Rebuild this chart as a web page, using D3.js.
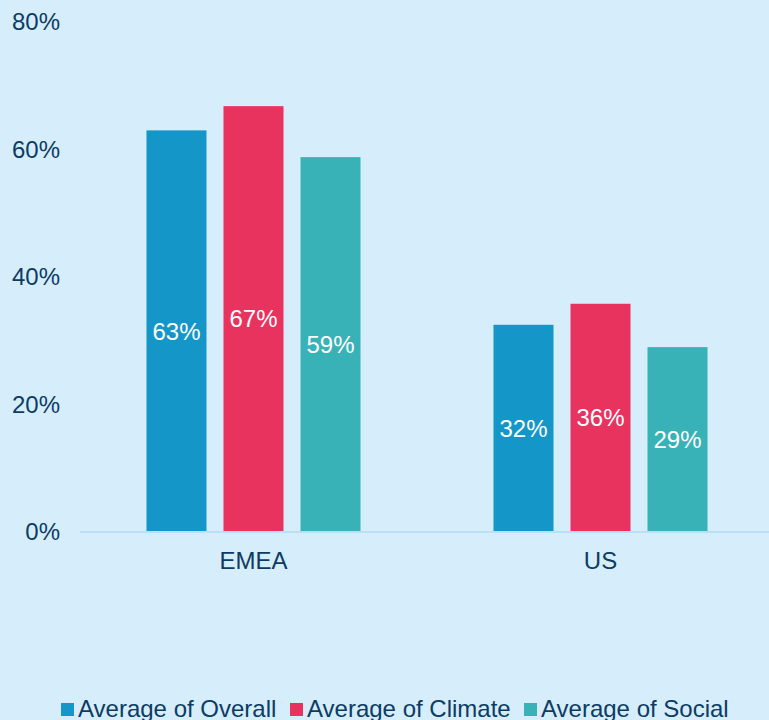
<!DOCTYPE html>
<html>
<head>
<meta charset="utf-8">
<script src="https://cdn.jsdelivr.net/npm/d3@7"></script>
<style>
  body { margin: 0; background: #d6edfc; }
  svg { display: block; font-family: "Liberation Sans", Arial, sans-serif; }
</style>
</head>
<body>
<div class="canvas"></div>
<script>
const regions = ['EMEA', 'US'];
const series = ['Average of Overall', 'Average of Climate', 'Average of Social'];
const overall = [63, 32.5];
const climate = [66.8, 35.8];
const social = [58.8, 29];
const valueLabels = [['63%', '67%', '59%'], ['32%', '36%', '29%']];
const yTicks = [0, 20, 40, 60, 80];
const colors = ['#1496c8', '#e8335f', '#38b2b7'];

const W = 769, H = 720;
const textColor = '#0c3c64';

const svg = d3.select('.canvas')
  .append('svg')
  .attr('width', W)
  .attr('height', H);

svg.append('rect')
  .attr('width', W)
  .attr('height', H)
  .attr('fill', '#d6edfc');

const y = d3.scaleLinear().domain([0, 80]).range([532, 22]);
const x0 = d3.scaleBand().domain(regions).range([80, 774]);
const x1 = d3.scaleBand().domain(series)
  .range([0, x0.bandwidth()])
  .paddingInner(17 / 77)
  .paddingOuter(0.8635);

// y tick labels
svg.append('g')
  .selectAll('text')
  .data(yTicks)
  .join('text')
  .attr('x', 60)
  .attr('y', d => y(d))
  .attr('dy', '0.35em')
  .attr('text-anchor', 'end')
  .attr('font-size', 24)
  .attr('fill', textColor)
  .text(d => d + '%');

const rows = regions.map((r, i) => ({
  region: r,
  values: [overall[i], climate[i], social[i]].map((v, j) => ({
    key: series[j], value: v, label: valueLabels[i][j], color: colors[j]
  }))
}));

const groups = svg.append('g')
  .selectAll('g')
  .data(rows)
  .join('g')
  .attr('transform', d => `translate(${x0(d.region)},0)`);

groups.selectAll('rect')
  .data(d => d.values)
  .join('rect')
  .attr('x', d => x1(d.key))
  .attr('y', d => y(d.value))
  .attr('width', x1.bandwidth())
  .attr('height', d => y(0) - y(d.value))
  .attr('fill', d => d.color);

groups.selectAll('text')
  .data(d => d.values)
  .join('text')
  .attr('x', d => x1(d.key) + x1.bandwidth() / 2)
  .attr('y', d => (y(0) + y(d.value)) / 2)
  .attr('dy', '0.35em')
  .attr('text-anchor', 'middle')
  .attr('font-size', 24)
  .attr('fill', '#fff')
  .text(d => d.label);

// baseline
svg.append('line')
  .attr('x1', 80)
  .attr('x2', W)
  .attr('y1', y(0))
  .attr('y2', y(0))
  .attr('stroke', '#b9e0f7')
  .attr('stroke-width', 2);

// category labels
svg.append('g')
  .selectAll('text')
  .data(regions)
  .join('text')
  .attr('x', d => x0(d) + x0.bandwidth() / 2)
  .attr('y', 569)
  .attr('text-anchor', 'middle')
  .attr('font-size', 24)
  .attr('fill', textColor)
  .text(d => d);

// legend
const legendX = [61, 290, 524];
const legend = svg.append('g')
  .selectAll('g')
  .data(series)
  .join('g')
  .attr('transform', (d, i) => `translate(${legendX[i]},0)`);

legend.append('rect')
  .attr('x', 0)
  .attr('y', 703)
  .attr('width', 13)
  .attr('height', 13)
  .attr('fill', (d, i) => colors[i]);

legend.append('text')
  .attr('x', 17)
  .attr('y', 717)
  .attr('font-size', 24)
  .attr('fill', textColor)
  .text(d => d);
</script>
</body>
</html>
